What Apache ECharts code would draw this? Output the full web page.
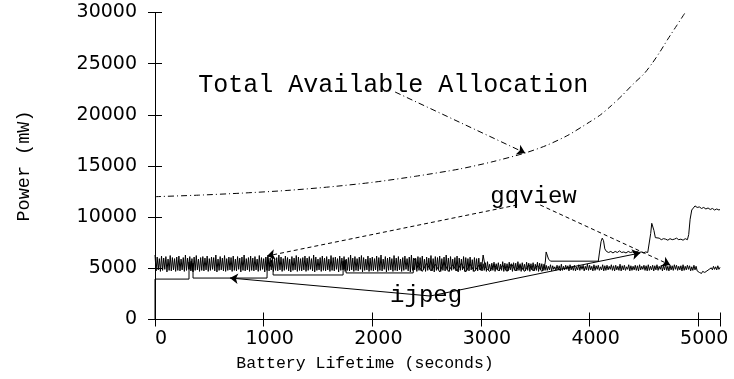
<!DOCTYPE html>
<html>
<head>
<meta charset="utf-8">
<script src="https://cdn.jsdelivr.net/npm/echarts@6/dist/echarts.min.js"></script>
<style>
  html, body { margin: 0; padding: 0; background: #fff; }
  #chart { width: 734px; height: 379px; }
</style>
</head>
<body>
<div id="chart"></div>
<script>
// Total power the battery can sustain over its remaining lifetime (seconds, mW)
const totalTime  = [0, 400, 800, 1200, 1600, 2000, 2400, 2800, 3100, 3400, 3600, 3800, 4000, 4100, 4200, 4300, 4400, 4500, 4580, 4650, 4720, 4800, 4880];
const totalPower = [12000, 12150, 12350, 12600, 12950, 13400, 14000, 14700, 15400, 16250, 17000, 18000, 19300, 20000, 20900, 21900, 23000, 24000, 25100, 26200, 27400, 28700, 30000];

// gqview power trace, one sample every 10 s starting at 0 s
const gqviewStep = 10;
const gqviewPower = [
  6300, 4750, 6100, 4850, 5950, 4700, 6200, 4800, 6000, 4900, 6150, 4650, 5900, 4800, 6250, 4750, 6050, 4850, 5950, 4700,
  6100, 4800, 6200, 4750, 5900, 4850, 6050, 4700, 6300, 4800, 6000, 4900, 6150, 4750, 5950, 4650, 6100, 4800, 6250, 4850,
  5900, 4700, 6050, 4800, 6150, 4750, 6000, 4850, 6200, 4700, 5950, 4800, 6100, 4900, 6050, 4750, 6300, 4650, 5900, 4800,
  6150, 4850, 6000, 4750, 6250, 4700, 5950, 4800, 6100, 4850, 6050, 4700, 6200, 4800, 5900, 4750, 6150, 4900, 6000, 4650,
  6100, 4800, 6300, 4750, 5950, 4850, 6050, 4700, 6200, 4800, 6000, 4750, 6150, 4850, 5900, 4700, 6250, 4800, 6050, 4900,
  5950, 4650, 6100, 4800, 6200, 4750, 6000, 4850, 6150, 4700, 5900, 4800, 6050, 4750, 6300, 4850, 6100, 4700, 5950, 4800,
  6200, 4900, 6050, 4750, 5900, 4650, 6150, 4800, 6000, 4850, 6250, 4700, 6100, 4800, 5950, 4750, 6050, 4850, 6200, 4700,
  6000, 4800, 6150, 4900, 5950, 4750, 6300, 4650, 6100, 4800, 5900, 4850, 6050, 4700, 6200, 4800, 6000, 4750, 6150, 4850,
  5900, 4700, 6250, 4800, 6050, 4750, 6100, 4900, 5950, 4650, 6200, 4800, 6000, 4850, 6150, 4700, 5900, 4800, 6050, 4750,
  6300, 4850, 6000, 4700, 6150, 4800, 5950, 4750, 6100, 4900, 6250, 4650, 6050, 4800, 5900, 4850, 6200, 4700, 6000, 4800,
  6100, 4750, 5950, 4850, 6200, 4700, 6050, 4800, 6300, 4750, 5900, 4900, 6150, 4650, 6000, 4800, 6100, 4850, 5950, 4700,
  6250, 4800, 6000, 4750, 6150, 4850, 5900, 4700, 6050, 4800, 6200, 4900, 5950, 4750, 6100, 4650, 6300, 4800, 6000, 4850,
  5950, 4700, 6150, 4800, 6050, 4750, 6200, 4850, 5900, 4700, 6100, 4800, 6000, 4900, 6250, 4750, 5950, 4650, 6150, 4800,
  6050, 4850, 6200, 4700, 5950, 4800, 6100, 4750, 6300, 4850, 6000, 4700, 6150, 4800, 5900, 4900, 6050, 4750, 6200, 4650,
  6000, 4800, 5900, 4850, 6150, 4700, 6050, 4800, 5950, 4750, 6100, 4850, 5850, 4700, 6050, 4800, 5950, 4750, 6000, 4850,
  5600, 4750, 5450, 4800, 5550, 4700, 5650, 4850, 5400, 4750, 5500, 4800, 5600, 4700, 5450, 4850, 5550, 4750, 5400, 4800,
  5650, 4700, 5500, 4800, 5450, 4750, 5600, 4850, 5400, 4700, 5550, 4800, 5500, 4750, 5650, 4800, 5450, 4700, 5550, 4850,
  5400, 4750, 5600, 4800, 5500, 4700, 5450, 4850, 5550, 4750, 5400, 4800, 5600, 4700, 5500, 4850, 5450, 4750, 5400, 4800,
  5300, 4800, 5200, 4850, 5350, 4750, 5250, 4900, 5150, 4800, 5300, 4850, 5250, 4750, 5400, 4800, 5200, 4850, 5300, 4900,
  5250, 4750, 5350, 4850, 5200, 4800, 5300, 4750, 5150, 4850, 5350, 4800, 5250, 4900, 5300, 4750, 5200, 4850, 5400, 4800,
  5300, 4850, 5200, 4750, 5350, 4800, 5250, 4900, 5300, 4800, 5150, 4850, 5350, 4750, 5250, 4800, 5300, 4850, 5200, 4900,
  5350, 4800, 5250, 4750, 5300, 4850, 5200, 4800, 5400, 4750, 5250, 4850, 5300, 4800, 5150, 4900, 5350, 4750, 5250, 4800,
  5200, 4850, 5300, 4800, 5250, 4750, 5350, 4850, 5200, 4900, 5300, 4800, 5250, 4750, 5350, 4800, 5200, 4850, 5300, 4750,
  5250, 4850, 5350, 4800, 5200, 4900, 5300, 4750, 5250, 4850, 5400, 4800, 5200, 4750, 5300, 4850, 5250, 4800, 5350, 4900,
  5300, 4800, 5200, 4850, 5250, 4750, 5350, 4800, 5200, 4850, 5300, 4900, 5250, 4750, 5150, 4800, 5300, 4850, 5200, 4750,
  4750, 4600, 4650, 4500, 4700, 4550, 4600, 4500, 4750, 4650, 4900, 4750, 5050, 4850, 5200, 4900, 5150, 4850, 5250, 4900,
  5100
];

// ijpeg power trace (seconds, mW): idle plateaus, start-up spikes, rising steps
const ijpegTime = [
  0, 0, 313, 313, 323, 333, 343, 350, 350, 1031,
  1034, 1050, 1062, 1075, 1087, 1087, 1731, 1731, 1740, 1750,
  1759, 1759, 2376, 2385, 2395, 2403, 2410, 2420, 2460, 2500,
  2540, 2580, 2620, 2660, 2700, 2740, 2780, 2820, 2860, 2900,
  2940, 2980, 3000, 3010, 3020, 3030, 3040, 3080, 3120, 3160,
  3200, 3240, 3280, 3320, 3360, 3400, 3440, 3480, 3520, 3560,
  3580, 3592, 3600, 3610, 3622, 3640, 4080, 4090, 4105, 4116,
  4128, 4140, 4155, 4175, 4195, 4215, 4235, 4255, 4275, 4295,
  4315, 4335, 4355, 4375, 4395, 4415, 4435, 4455, 4475, 4495,
  4515, 4535, 4550, 4562, 4572, 4580, 4592, 4605, 4620, 4640,
  4660, 4680, 4700, 4720, 4740, 4760, 4780, 4800, 4820, 4840,
  4860, 4880, 4900, 4912, 4925, 4940, 4955, 4970, 4990, 5010,
  5030, 5050, 5070, 5090, 5110, 5130, 5150, 5170, 5190, 5200
];
const ijpegPower = [
  0, 3950, 3950, 5600, 4900, 5700, 4800, 5500, 4050, 4050,
  6100, 6200, 5200, 5800, 5000, 4350, 4350, 5700, 4900, 5800,
  4800, 4550, 4550, 5800, 6000, 5900, 5000, 5300, 4700, 5500,
  4750, 5400, 4650, 5550, 4700, 5350, 4750, 5500, 4650, 5400,
  4700, 5300, 4800, 5400, 6300, 6200, 5100, 4700, 5400, 4750,
  5300, 4700, 5450, 4750, 5300, 4700, 5350, 4750, 5300, 4700,
  5000, 5600, 6600, 6700, 5900, 5700, 5700, 6500, 7600, 7950,
  7700, 6900, 6650, 6550, 6650, 6500, 6650, 6550, 6700, 6550,
  6600, 6500, 6650, 6550, 6600, 6500, 6650, 6550, 6600, 6500,
  6600, 6550, 6700, 8400, 9400, 9500, 8700, 8000, 7850, 7950,
  7800, 7900, 7850, 7750, 7900, 7800, 7850, 7950, 7800, 7850,
  7750, 7900, 7800, 8300, 9800, 10700, 10900, 11100, 10950, 11000,
  10850, 10950, 10800, 10900, 10750, 10850, 10700, 10800, 10700, 10750
];

const xTicks = [0, 1000, 2000, 3000, 4000, 5000];
const yTicks = [0, 5000, 10000, 15000, 20000, 25000, 30000];

const totalData  = totalTime.map((t, i) => [t, totalPower[i]]);
const gqviewData = gqviewPower.map((p, i) => [i * gqviewStep, p]);
const ijpegData  = ijpegTime.map((t, i) => [t, ijpegPower[i]]);

const INK = '#000';
const monoFont = 'Liberation Mono';
const numFont = 'DejaVu Sans';
const dashDot = [6, 3, 1, 3];

const boxAxis = {
  axisLine: { show: true, lineStyle: { color: INK, width: 1 } },
  axisTick: { show: true, inside: true, length: 7, lineStyle: { color: INK, width: 1 } },
  splitLine: { show: false }
};

const chart = echarts.init(document.getElementById('chart'), null, { renderer: 'canvas' });
chart.setOption({
  animation: false,
  backgroundColor: '#fff',
  grid: { left: 155, right: 14, top: 12.5, bottom: 59.5, containLabel: false },
  xAxis: [
    Object.assign({
      type: 'value', position: 'bottom',
      min: xTicks[0], max: 5200, interval: xTicks[1] - xTicks[0],
      axisLabel: {
        color: INK, fontFamily: numFont, fontSize: 19, margin: 10,
        padding: [0, 0, 0, 12],
        formatter: v => (xTicks.indexOf(v) >= 0 ? String(v) : '')
      },
      name: 'Battery Lifetime (seconds)', nameLocation: 'middle', nameGap: 36,
      nameTextStyle: { color: INK, fontFamily: monoFont, fontSize: 16.5, padding: [0, 145, 0, 0] }
    }, boxAxis),
    Object.assign({
      type: 'value', position: 'top',
      min: xTicks[0], max: 5200, interval: xTicks[1] - xTicks[0],
      axisLabel: { show: false }
    }, boxAxis)
  ],
  yAxis: [
    Object.assign({
      type: 'value', position: 'left',
      min: yTicks[0], max: yTicks[yTicks.length - 1], interval: yTicks[1] - yTicks[0],
      axisLabel: { color: INK, fontFamily: numFont, fontSize: 19, margin: 18, formatter: v => String(v) },
      name: 'Power (mW)', nameLocation: 'middle', nameGap: 121,
      nameTextStyle: { color: INK, fontFamily: monoFont, fontSize: 18.5 }
    }, boxAxis),
    Object.assign({
      type: 'value', position: 'right',
      min: yTicks[0], max: yTicks[yTicks.length - 1], interval: yTicks[1] - yTicks[0],
      axisLabel: { show: false }
    }, boxAxis)
  ],
  series: [
    {
      name: 'Total Available Allocation',
      type: 'line', xAxisIndex: 0, yAxisIndex: 0,
      data: totalData, smooth: 0.25,
      showSymbol: false, clip: true,
      lineStyle: { color: INK, width: 1, type: dashDot },
      emphasis: { disabled: true },
      markLine: {
        silent: true, symbol: ['none', 'arrow'], symbolSize: 8,
        label: { show: false },
        lineStyle: { color: INK, width: 1, type: dashDot },
        data: [[{ coord: [2210, 22230] }, { coord: [3407, 16270] }]]
      },
      markPoint: {
        silent: true, symbol: 'circle', symbolSize: 0,
        label: { show: true, position: 'inside', color: INK, fontFamily: monoFont, fontSize: 25,
                 formatter: 'Total Available Allocation' },
        data: [{ coord: [2192, 22900] }]
      }
    },
    {
      name: 'gqview',
      type: 'line', xAxisIndex: 0, yAxisIndex: 0,
      data: gqviewData, showSymbol: false, clip: true,
      lineStyle: { color: INK, width: 1 },
      emphasis: { disabled: true },
      markLine: {
        silent: true, symbol: ['none', 'arrow'], symbolSize: 8,
        label: { show: false },
        lineStyle: { color: INK, width: 1, type: [4, 3] },
        data: [
          [{ coord: [3333, 11190] }, { coord: [1031, 6205] }],
          [{ coord: [3545, 11190] }, { coord: [4742, 5326] }]
        ]
      },
      markPoint: {
        silent: true, symbol: 'circle', symbolSize: 0,
        label: { show: true, position: 'inside', color: INK, fontFamily: monoFont, fontSize: 24,
                 formatter: 'gqview' },
        data: [{ coord: [3484, 11990] }]
      }
    },
    {
      name: 'ijpeg',
      type: 'line', xAxisIndex: 0, yAxisIndex: 0,
      data: ijpegData, showSymbol: false, clip: true,
      lineStyle: { color: INK, width: 1 },
      emphasis: { disabled: true },
      markLine: {
        silent: true, symbol: ['none', 'arrow'], symbolSize: 8,
        label: { show: false },
        lineStyle: { color: INK, width: 1, type: 'solid' },
        data: [
          [{ coord: [2532, 2296] }, { coord: [690, 4055] }],
          [{ coord: [2532, 2296] }, { coord: [4466, 6500] }]
        ]
      },
      markPoint: {
        silent: true, symbol: 'circle', symbolSize: 0,
        label: { show: true, position: 'inside', color: INK, fontFamily: monoFont, fontSize: 24,
                 formatter: 'ijpeg' },
        data: [{ coord: [2495, 2316] }]
      }
    }
  ]
});
</script>
</body>
</html>
